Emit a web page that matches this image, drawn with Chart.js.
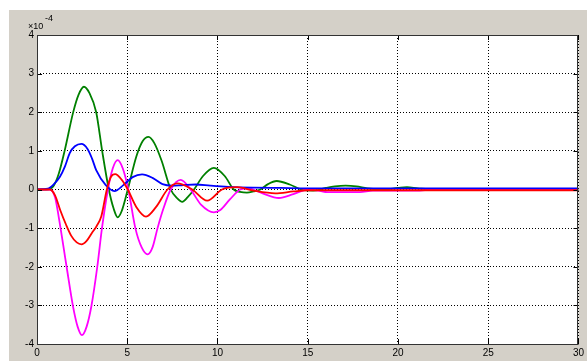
<!DOCTYPE html>
<html>
<head>
<meta charset="utf-8">
<script src="https://cdn.jsdelivr.net/npm/chart.js@4.4.0/dist/chart.umd.min.js"></script>
<style>
  html, body { margin: 0; padding: 0; background: #fff; }
</style>
</head>
<body>
<canvas id="respPlot" width="587" height="361"></canvas>
<script>
// values, y in units of 1e-4
const tGreen = [0, 0.5, 0.9, 1.2, 1.54, 2.0, 2.3, 2.6, 2.9, 3.28, 3.61, 3.98, 4.25, 4.47, 4.7, 5.03, 5.5, 5.85, 6.18, 6.5, 6.9, 7.41, 7.75, 8.05, 8.35, 8.7, 9.2, 9.8, 10.4, 10.9, 11.25, 11.63, 12.0, 12.37, 12.8, 13.28, 14.0, 14.64, 15.3, 16.0, 16.5, 17.1, 17.7, 18.3, 19.2, 20.0, 20.5, 21.1, 22, 30];
const yGreen = [0, 0, 0.08, 0.4, 1.02, 1.99, 2.45, 2.66, 2.5, 2.0, 1.0, 0, -0.5, -0.72, -0.55, 0, 0.85, 1.25, 1.36, 1.2, 0.75, 0, -0.22, -0.32, -0.2, 0, 0.35, 0.56, 0.35, 0, -0.06, -0.08, -0.05, 0, 0.14, 0.22, 0.13, 0, -0.03, 0.04, 0.08, 0.1, 0.08, 0.03, 0, 0.04, 0.06, 0.03, 0, 0];

const tBlue = [0, 0.6, 0.9, 1.27, 1.55, 1.82, 2.1, 2.46, 2.8, 3.05, 3.28, 3.8, 4.29, 4.8, 5.3, 5.82, 6.4, 6.95, 7.5, 8.0, 8.8, 9.6, 10.6, 12, 13.5, 15, 30];
const yBlue = [0, 0.02, 0.12, 0.33, 0.6, 0.95, 1.12, 1.18, 1.05, 0.8, 0.5, 0.12, -0.04, 0.12, 0.32, 0.39, 0.3, 0.14, 0.1, 0.11, 0.13, 0.1, 0.07, 0.05, 0.04, 0.03, 0.03];

const tRed = [0, 0.7, 1.0, 1.3, 1.6, 1.9, 2.2, 2.46, 2.75, 3.05, 3.3, 3.56, 3.87, 4.1, 4.33, 4.7, 5.03, 5.5, 6.04, 6.6, 7.23, 7.78, 8.6, 9.43, 10.25, 11.1, 12.0, 13.2, 14.2, 15, 17, 21, 30];
const yRed = [0, 0, -0.15, -0.55, -0.9, -1.2, -1.37, -1.42, -1.33, -1.12, -0.95, -0.7, 0, 0.33, 0.4, 0.25, 0, -0.45, -0.7, -0.45, 0, 0.16, 0, -0.29, 0, 0.06, -0.03, -0.1, -0.05, -0.02, -0.02, -0.02, -0.02];

const tMagenta = [0, 0.7, 1.0, 1.2, 1.64, 2.0, 2.25, 2.49, 2.75, 3.01, 3.34, 3.6, 3.93, 4.2, 4.47, 4.75, 5.06, 5.45, 5.8, 6.13, 6.4, 6.68, 7.0, 7.41, 7.96, 8.51, 9.1, 9.8, 10.16, 10.7, 11.27, 11.7, 12.5, 13.4, 14.2, 15, 15.6, 16.1, 17, 17.9, 18.6, 20, 21, 22, 30];
const yMagenta = [0, 0, -0.2, -0.7, -2.0, -3.04, -3.55, -3.77, -3.55, -3.03, -2.0, -1.0, 0, 0.55, 0.76, 0.55, 0, -1.0, -1.5, -1.68, -1.5, -1.0, -0.5, 0, 0.25, 0, -0.4, -0.59, -0.53, -0.25, 0, 0.03, -0.1, -0.22, -0.12, 0, -0.03, -0.07, -0.07, -0.07, -0.03, -0.03, -0.03, 0, 0];

const xTicks = [0, 5, 10, 15, 20, 25, 30];
const yTicks = [-4, -3, -2, -1, 0, 1, 2, 3, 4];

function toPoints(xs, ys) {
  return xs.map((x, i) => ({ x: x, y: ys[i] }));
}

const figBg = "#d4d0c8";
const tickFont = { family: "Liberation Sans", size: 10 };

// grey figure window, white axes, inward ticks, exponent label
const matlabFrame = {
  id: "matlabFrame",
  beforeDraw(chart) {
    const c = chart.ctx;
    const a = chart.chartArea;
    c.save();
    c.fillStyle = "#fff";
    c.fillRect(0, 0, chart.width, chart.height);
    c.fillStyle = figBg;
    c.fillRect(9, 10, chart.width - 9, chart.height - 10);
    c.fillStyle = "#fff";
    c.fillRect(a.left, a.top, a.right - a.left, a.bottom - a.top);
    c.restore();
  },
  afterDraw(chart) {
    const c = chart.ctx;
    const a = chart.chartArea;
    const xs = chart.scales.x;
    const ys = chart.scales.y;
    c.save();
    c.strokeStyle = "#000";
    c.lineWidth = 1;
    c.beginPath();
    xTicks.forEach(v => {
      const px = Math.round(xs.getPixelForValue(v)) + 0.5;
      c.moveTo(px, a.bottom); c.lineTo(px, a.bottom - 5);
      c.moveTo(px, a.top); c.lineTo(px, a.top + 5);
    });
    yTicks.forEach(v => {
      const py = Math.round(ys.getPixelForValue(v)) + 0.5;
      c.moveTo(a.left, py); c.lineTo(a.left + 5, py);
      c.moveTo(a.right, py); c.lineTo(a.right - 5, py);
    });
    c.stroke();
    c.strokeStyle = "#333";
    c.strokeRect(Math.round(a.left) + 0.5, Math.round(a.top) + 0.5,
      Math.round(a.right - a.left) - 1, Math.round(a.bottom - a.top));
    c.fillStyle = "#000";
    c.font = "9px 'Liberation Sans'";
    c.textBaseline = "alphabetic";
    c.fillText("\u00d710", 28, 29);
    c.fillText("-4", 45, 21);
    c.restore();
  }
};

const ctx = document.getElementById("respPlot").getContext("2d");
const respPlot = new Chart(ctx, {
  type: "line",
  data: {
    datasets: [
      {
        label: "red",
        data: toPoints(tRed, yRed),
        borderColor: "#ff0000",
      },
      {
        label: "blue",
        data: toPoints(tBlue, yBlue),
        borderColor: "#0000ff",
      },
      {
        label: "magenta",
        data: toPoints(tMagenta, yMagenta),
        borderColor: "#ff00ff",
      },
      {
        label: "green",
        data: toPoints(tGreen, yGreen),
        borderColor: "#008000",
      },
    ],
  },
  options: {
    responsive: false,
    animation: false,
    devicePixelRatio: 1,
    layout: { padding: { left: 0, top: 35, right: 5, bottom: 0 } },
    datasets: {
      line: {
        borderWidth: 1.8,
        pointRadius: 0,
        cubicInterpolationMode: "monotone",
        fill: false,
      },
    },
    plugins: {
      legend: { display: false },
      tooltip: { enabled: false },
    },
    scales: {
      x: {
        type: "linear",
        min: 0,
        max: 30,
        afterFit: s => { s.height = 17; },
        afterBuildTicks: s => { s.ticks = xTicks.map(v => ({ value: v })); },
        ticks: { color: "#000", font: tickFont, padding: 3, maxRotation: 0 },
        grid: { color: "#000", lineWidth: 1, drawTicks: false },
        border: { display: false, dash: [1, 2] },
      },
      y: {
        min: -4,
        max: 4,
        afterFit: s => { s.width = 37; },
        afterBuildTicks: s => { s.ticks = yTicks.map(v => ({ value: v })); },
        ticks: { color: "#000", font: tickFont, padding: 3 },
        grid: { color: "#000", lineWidth: 1, drawTicks: false },
        border: { display: false, dash: [1, 2] },
      },
    },
  },
  plugins: [matlabFrame],
});
</script>
</body>
</html>
